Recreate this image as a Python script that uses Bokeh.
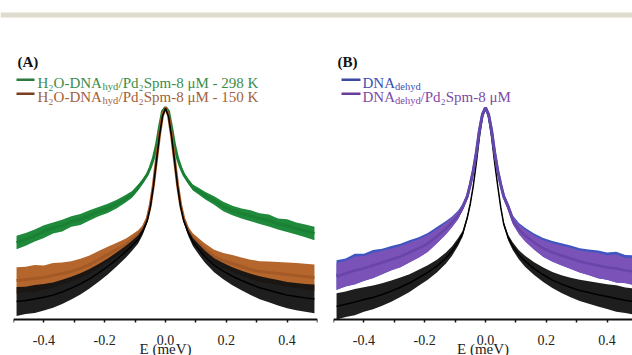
import numpy as np
from bokeh.plotting import figure
from bokeh.layouts import column, row
from bokeh.models import Range1d, Label, BoxAnnotation, FixedTicker, NumeralTickFormatter
from bokeh.embed import file_html
from bokeh.resources import INLINE

# ---------------- data (normalised intensity, peak = 1) ----------------
energy = [-0.49, -0.46, -0.43, -0.40, -0.37, -0.34, -0.31, -0.28, -0.25, -0.22, -0.19,
          -0.16, -0.13, -0.11, -0.09, -0.075, -0.06, -0.05, -0.04, -0.03, -0.02, -0.01,
          0.0,
          0.01, 0.02, 0.03, 0.04, 0.05, 0.06, 0.075, 0.09, 0.11, 0.13, 0.16, 0.19, 0.22,
          0.25, 0.28, 0.31, 0.34, 0.37, 0.40, 0.43, 0.46, 0.49]

# Panel A
a_298K = [.363, .378, .396, .415, .432, .443, .462, .472, .491, .509, .524, .545, .571, .590, .623, .651, .684, .717, .759, .821, .906, .981,
          1.0,
          .981, .906, .821, .759, .717, .684, .651, .623, .604, .585, .561, .533, .514, .500, .489, .476, .467, .450, .443, .429, .418, .406]
a_298K_noise = [.032, .030, .028, .030, .026, .028, .025, .026, .024, .022, .022, .020, .018, .016, .014, .012, .010, .009, .008, .007, .006, .005,
                .005,
                .005, .006, .007, .008, .009, .010, .012, .014, .016, .018, .020, .022, .022, .024, .026, .025, .028, .026, .030, .028, .030, .032]
a_150K = [.184, .189, .193, .198, .208, .217, .226, .241, .259, .283, .307, .330, .354, .377, .401, .429, .476, .538, .632, .750, .868, .962,
          1.0,
          .962, .868, .750, .632, .538, .476, .420, .387, .358, .330, .297, .278, .264, .250, .236, .226, .222, .217, .212, .208, .203, .198]
a_150K_noise = [.062, .060, .064, .057, .058, .052, .049, .046, .043, .040, .036, .032, .028, .024, .020, .016, .012, .010, .008, .006, .005, .004,
                .004,
                .004, .005, .006, .008, .010, .012, .016, .020, .024, .028, .032, .036, .040, .043, .046, .049, .052, .054, .057, .058, .060, .062]
a_ref = [.085, .090, .097, .105, .115, .130, .148, .168, .192, .220, .250, .284, .320, .348, .378, .414, .466, .530, .626, .746, .864, .958,
         .996,
         .958, .864, .746, .626, .530, .466, .408, .366, .330, .296, .256, .228, .204, .184, .166, .150, .138, .126, .115, .108, .102, .097]
a_ref_noise = [.068, .064, .066, .062, .060, .057, .054, .050, .046, .042, .038, .033, .028, .024, .019, .014, .010, .008, .006, .005, .004, .003,
               .003,
               .003, .004, .005, .006, .008, .010, .014, .019, .024, .028, .033, .038, .042, .046, .050, .054, .057, .060, .062, .064, .066, .068]

# Panel B
b_dehyd = [.210, .222, .238, .246, .262, .274, .290, .302, .322, .340, .364, .398, .434, .461, .494, .531, .581, .638, .704, .789, .893, .968,
           1.0,
           .968, .893, .789, .704, .638, .581, .531, .471, .430, .402, .368, .340, .322, .308, .294, .279, .270, .260, .252, .247, .238, .232]
b_dehyd_noise = [.070, .066, .072, .064, .066, .060, .057, .055, .052, .048, .044, .038, .031, .025, .020, .015, .011, .009, .007, .006, .005, .004,
                 .004,
                 .004, .005, .006, .007, .009, .011, .015, .020, .025, .031, .038, .044, .048, .052, .055, .057, .060, .066, .064, .072, .066, .070]
b_pd = [.203, .217, .231, .241, .255, .269, .283, .297, .316, .335, .358, .392, .429, .458, .491, .528, .580, .637, .703, .788, .892, .967,
        1.0,
        .967, .892, .788, .703, .637, .580, .528, .467, .425, .396, .363, .335, .316, .302, .288, .274, .264, .255, .245, .241, .231, .226]
b_pd_noise = [.064, .060, .066, .058, .060, .055, .052, .050, .047, .044, .040, .034, .028, .023, .018, .014, .010, .008, .007, .006, .005, .004,
              .004,
              .004, .005, .006, .007, .008, .010, .014, .018, .023, .028, .034, .040, .044, .047, .050, .052, .055, .060, .058, .066, .060, .064]
b_ref = [.062, .072, .082, .094, .104, .118, .134, .152, .172, .197, .222, .252, .290, .323, .366, .405, .480, .546, .632, .741, .863, .958,
         .995,
         .958, .863, .741, .632, .530, .450, .385, .345, .305, .275, .240, .211, .186, .167, .151, .137, .127, .117, .108, .099, .091, .084]
b_ref_noise = [.062, .060, .062, .058, .056, .053, .050, .046, .042, .038, .034, .030, .026, .022, .018, .014, .010, .008, .006, .005, .004, .003,
               .003,
               .003, .004, .005, .006, .008, .010, .014, .018, .022, .026, .030, .034, .038, .042, .046, .050, .053, .056, .058, .062, .060, .062]

major_ticks = [-0.4, -0.2, 0.0, 0.2, 0.4]
minor_ticks = [-0.5, -0.3, -0.1, 0.1, 0.3, 0.5]
x_title = "E (meV)"

# ---------------- layout constants ----------------
SERIF = "Liberation Serif"
TOP_H = 22           # height of decorative strip figure
PANEL_H = 333
BORDER_L = 13
PX_PER_MEV = 304.0
PX_PER_UNIT = 212.0
AXIS_WIN_Y = 319     # window row of the E axis line
Y_TOP = (AXIS_WIN_Y - TOP_H) / PX_PER_UNIT
Y_BOTTOM = (AXIS_WIN_Y - TOP_H - PANEL_H) / PX_PER_UNIT


def make_panel(width, right_border):
    x_end = -0.5 + (width - BORDER_L - right_border) / PX_PER_MEV
    p = figure(width=width, height=PANEL_H,
               x_range=Range1d(-0.5, x_end), y_range=Range1d(Y_BOTTOM, Y_TOP),
               toolbar_location=None, output_backend="svg", y_axis_location=None,
               min_border_left=BORDER_L, min_border_right=right_border,
               min_border_top=0, min_border_bottom=0)
    p.grid.visible = False
    p.outline_line_color = None
    p.background_fill_color = "white"
    p.border_fill_color = "white"
    ax = p.xaxis[0]
    ax.fixed_location = 0
    ax.ticker = FixedTicker(ticks=major_ticks, minor_ticks=minor_ticks)
    ax.formatter = NumeralTickFormatter(format="0.0")
    ax.axis_line_color = "#111111"
    ax.axis_line_width = 2
    ax.major_tick_line_color = "#111111"
    ax.minor_tick_line_color = "#111111"
    ax.major_tick_line_width = 1.5
    ax.minor_tick_line_width = 1.5
    ax.major_tick_out = 3
    ax.major_tick_in = 0
    ax.minor_tick_out = 3
    ax.minor_tick_in = 0
    ax.major_label_standoff = 12
    ax.major_label_text_font = SERIF
    ax.major_label_text_font_size = "14px"
    ax.major_label_text_color = "#222222"
    ax.axis_label = x_title
    ax.axis_label_text_font = SERIF
    ax.axis_label_text_font_size = "15px"
    ax.axis_label_text_font_style = "normal"
    ax.axis_label_text_color = "#222222"
    ax.axis_label_standoff = -7
    return p


def xd(px, left):
    return -0.5 + (px - left - BORDER_L) / PX_PER_MEV


def yd(py):
    return (AXIS_WIN_Y - py) / PX_PER_UNIT


def band(p, center, noise, fill, line, lw, alpha=1.0):
    c = np.array(center)
    s = np.array(noise)
    # the spectra are only shown above the E axis (intensity >= 0)
    p.varea(x=energy, y1=np.maximum(c - s, 0.0), y2=c + s, fill_color=fill, fill_alpha=alpha)
    p.line(energy, c, line_color=line, line_width=lw)


def text(p, s, px, py, left, color, size="15px", bold=False):
    p.add_layout(Label(x=xd(px, left), y=yd(py), text=s, text_font=SERIF,
                       text_font_size=size, text_color=color,
                       text_font_style="bold" if bold else "normal",
                       text_align="left", text_baseline="alphabetic"))


# ---------------- top strip ----------------
p0 = figure(width=632, height=TOP_H, x_range=Range1d(0, 1), y_range=Range1d(0, TOP_H),
            toolbar_location=None, output_backend="svg", min_border=0)
p0.axis.visible = False
p0.grid.visible = False
p0.outline_line_color = None
p0.add_layout(BoxAnnotation(bottom=TOP_H - 17, top=TOP_H - 12, fill_color="#e0dccd",
                            fill_alpha=1.0, line_color=None))

# ---------------- panel A ----------------
pa = make_panel(320, 3)
LA = 0
band(pa, a_298K, a_298K_noise, "#1f8a3b", "#1a8034", 3)
band(pa, a_150K, a_150K_noise, "#b5662c", "#a45a26", 3)
band(pa, a_ref, a_ref_noise, "#121212", "#000000", 1.5, alpha=0.95)
text(pa, "(A)", 17, 61, LA, "#111111", bold=True)
pa.segment(x0=[xd(16, LA), xd(16, LA)], y0=[yd(79.3), yd(93.3)],
           x1=[xd(34, LA), xd(34, LA)], y1=[yd(79.3), yd(93.3)],
           line_color=["#2d7a3c", "#7b3f1f"], line_width=2.5)
for s, x, y, sz, col in [
        ("H\u2082O-DNA", 37, 82.7, "15px", "#3d8c4a"),
        ("hyd", 102, 86.2, "10.5px", "#3d8c4a"),
        ("/Pd\u2082Spm-8 \u03bcM - 298 K", 118, 82.7, "15px", "#3d8c4a"),
        ("H\u2082O-DNA", 37, 96.7, "15px", "#a3623a"),
        ("hyd", 102, 100.2, "10.5px", "#a3623a"),
        ("/Pd\u2082Spm-8 \u03bcM - 150 K", 118, 96.7, "15px", "#a3623a")]:
    text(pa, s, x, y, LA, col, size=sz)

# ---------------- panel B ----------------
pb = make_panel(312, 0)
LB = 320
band(pb, b_ref, b_ref_noise, "#121212", "#000000", 1.5, alpha=0.95)
band(pb, b_dehyd, b_dehyd_noise, "#3f55c0", "#3a4db3", 3)
band(pb, b_pd, b_pd_noise, "#7a52b8", "#6a45a8", 2.5)
text(pb, "(B)", 337, 61, LB, "#111111", bold=True)
pb.segment(x0=[xd(341, LB), xd(341, LB)], y0=[yd(79.3), yd(93.3)],
           x1=[xd(360, LB), xd(360, LB)], y1=[yd(79.3), yd(93.3)],
           line_color=["#3a4aa0", "#6b3d99"], line_width=2.5)
for s, x, y, sz, col in [
        ("DNA", 362, 82.7, "15px", "#3a50b5"),
        ("dehyd", 394.5, 86.2, "10.5px", "#3a50b5"),
        ("DNA", 362, 96.7, "15px", "#7d4aa8"),
        ("dehyd", 394.5, 100.2, "10.5px", "#7d4aa8"),
        ("/Pd\u2082Spm-8 \u03bcM", 420, 96.7, "15px", "#7d4aa8")]:
    text(pb, s, x, y, LB, col, size=sz)

layout = column(p0, row(pa, pb, spacing=0), spacing=0)
open("out.html", "w").write(file_html(layout, INLINE))
